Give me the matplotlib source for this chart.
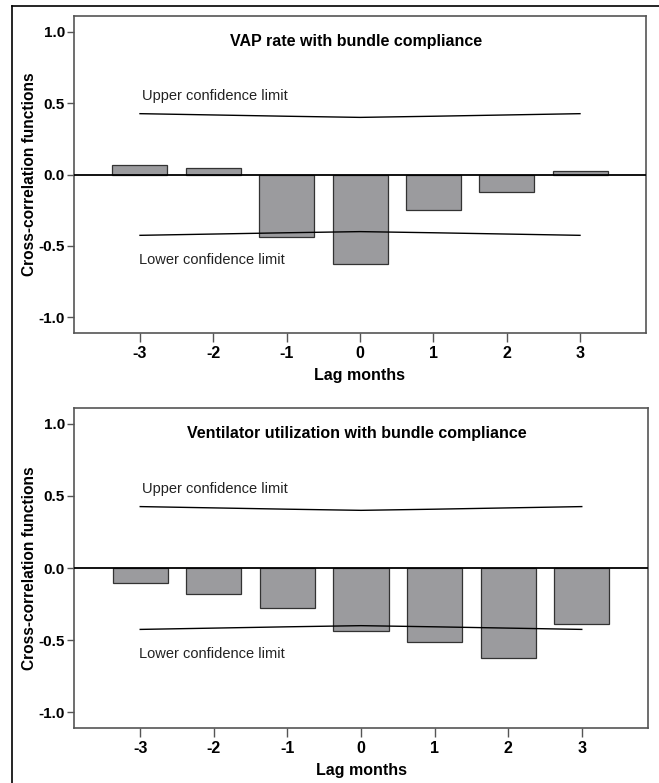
import matplotlib
matplotlib.use("Agg")
from matplotlib import pyplot as plt
from matplotlib.lines import Line2D

# data
lags = [-3, -2, -1, 0, 1, 2, 3]
vap_ccf = [0.068, 0.047, -0.44, -0.625, -0.25, -0.12, 0.023]
vent_ccf = [-0.105, -0.18, -0.28, -0.44, -0.515, -0.625, -0.387]
upper_limit = [0.426, 0.417, 0.408, 0.400, 0.408, 0.417, 0.426]
lower_limit = [-0.426, -0.417, -0.408, -0.400, -0.408, -0.417, -0.426]
yticks = [-1.0, -0.5, 0.0, 0.5, 1.0]
titles = ["VAP rate with bundle compliance",
          "Ventilator utilization with bundle compliance"]

plt.rcParams['font.family'] = ["Liberation Sans", "DejaVu Sans"]

W, H = 659, 783
fig = plt.figure(figsize=(W / 100, H / 100), dpi=100)

# outer frame (top and left only)
fig.add_artist(Line2D([12 / W, 1], [1 - 6 / H, 1 - 6 / H], color="black", lw=1.2))
fig.add_artist(Line2D([12 / W, 12 / W], [1 - 6 / H, 0], color="black", lw=1.2))

spine_col = "#555555"


def draw_panel(rect, vals, title):
    ax = fig.add_axes(rect)
    ax.bar(lags, vals, width=0.75, color="#9b9b9e", edgecolor="#333333", linewidth=0.9, zorder=2)
    ax.axhline(0, color="black", lw=1.3, zorder=3)
    ax.plot(lags, upper_limit, color="black", lw=1.0, zorder=4)
    ax.plot(lags, lower_limit, color="black", lw=1.0, zorder=4)
    ax.set_xlim(-3.9, 3.9)
    ax.set_ylim(-1.11, 1.11)
    ax.set_xticks(lags)
    ax.set_xticklabels([str(l) for l in lags])
    ax.set_yticks(yticks)
    ax.set_yticklabels([f"{t:.1f}" for t in yticks])
    ax.tick_params(width=1, color=spine_col)
    ax.tick_params(axis="x", length=6.5, pad=3, labelsize=11.5)
    ax.tick_params(axis="y", length=5, pad=1.5, labelsize=11)
    for lab in ax.get_xticklabels() + ax.get_yticklabels():
        lab.set_fontweight("bold")
    for s in ax.spines.values():
        s.set_color(spine_col)
        s.set_linewidth(1.2)
    ax.set_xlabel("Lag months", fontsize=11.5, fontweight="bold", labelpad=5)
    ax.set_ylabel("Cross-correlation functions", fontsize=11.2, fontweight="bold", labelpad=1)
    ax.text(-0.06, 0.93, title, fontsize=11.5, fontweight="bold", ha="center", va="center")
    ax.text(-2.97, 0.55, "Upper confidence limit", fontsize=10.5, ha="left", va="center", color="#222222")
    ax.text(-3.02, -0.60, "Lower confidence limit", fontsize=10.5, ha="left", va="center", color="#222222")
    return ax


draw_panel([74 / W, 1 - 333 / H, 572 / W, 317 / H], vap_ccf, titles[0])
draw_panel([74 / W, 1 - 728 / H, 574 / W, 320 / H], vent_ccf, titles[1])

plt.savefig("out.png", dpi=100)
